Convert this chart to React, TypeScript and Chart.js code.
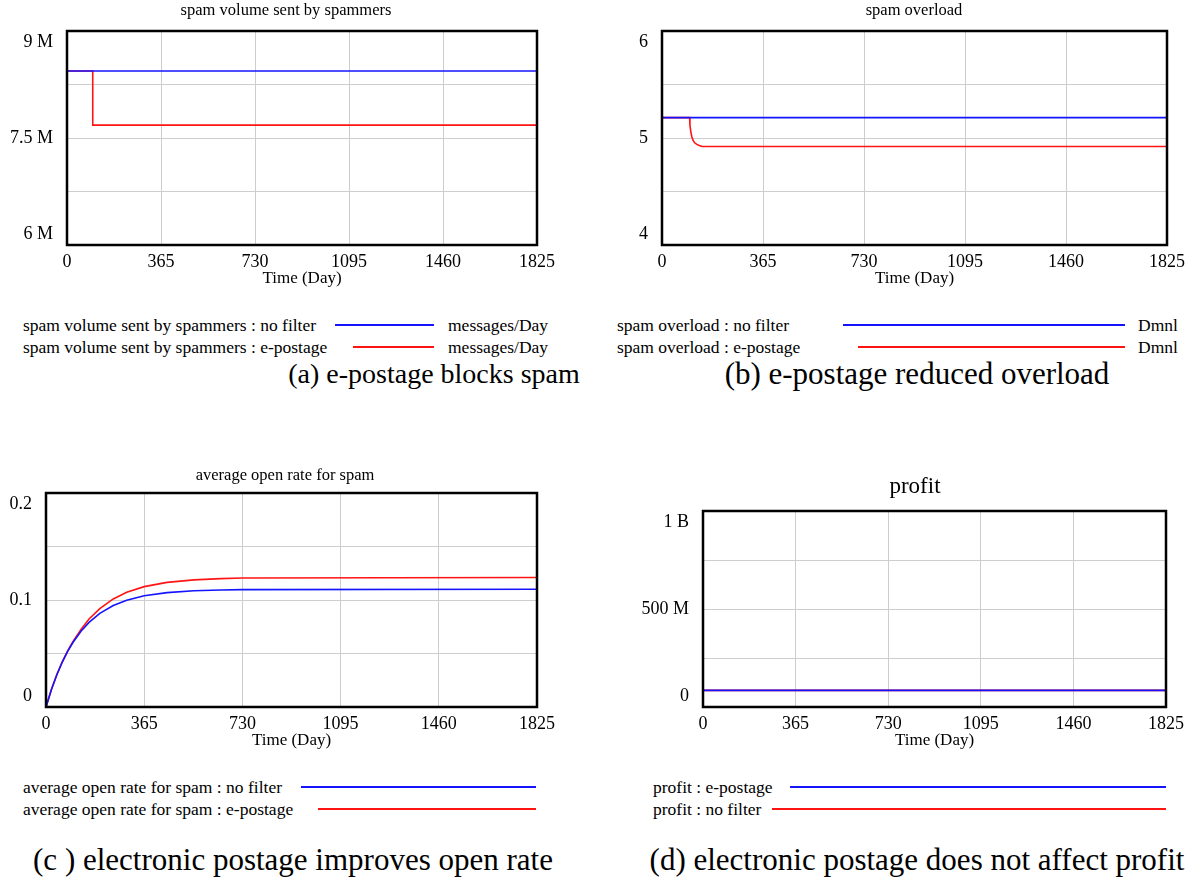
import React, { useEffect, useRef } from 'react';
import { Chart, registerables } from 'chart.js';

Chart.register(...registerables);

const FONT = "'Liberation Serif', 'Times New Roman', serif";
const BLUE = 'rgb(20,20,255)';
const RED = 'rgb(255,20,20)';
const GRID = 'rgb(205,205,205)';

// shared time axis
const timeMax = 1825;
const timeStep = 365;
const xTitle = 'Time (Day)';

// (a) spam volume sent by spammers
const spamTime = [0, 100, 100, 1825];
const spamNoFilter = [8.44e6, 8.44e6, 8.44e6, 8.44e6];
const spamEPostage = [8.44e6, 8.44e6, 7.68e6, 7.68e6];
const spamYVals = [9e6, 7.5e6, 6e6];
const spamYLabels = ['9 M', '7.5 M', '6 M'];

// (b) spam overload
const overloadTime = [0, 100, 101, 104, 108, 112, 118, 126, 135, 145, 1825];
const overloadNoFilter = [5.19, 5.19, 5.19, 5.19, 5.19, 5.19, 5.19, 5.19, 5.19, 5.19, 5.19];
const overloadEPostage = [5.19, 5.19, 5.12, 5.06, 5.01, 4.98, 4.955, 4.94, 4.93, 4.92, 4.92];
const overloadYVals = [6, 5, 4];
const overloadYLabels = ['6', '5', '4'];

// (c) average open rate for spam
const openTime = [0, 20, 40, 60, 80, 100, 130, 160, 200, 250, 300, 365, 450, 550, 650, 730, 1825];
const openNoFilter = [0, 0.0162, 0.0299, 0.0417, 0.0517, 0.0603, 0.0708, 0.0791, 0.0875, 0.0949, 0.0998, 0.1039, 0.1069, 0.1086, 0.1094, 0.1097, 0.11];
const openEPostage = [0, 0.0163, 0.0301, 0.042, 0.0522, 0.061, 0.0725, 0.0822, 0.092, 0.101, 0.1072, 0.1125, 0.1165, 0.1188, 0.12, 0.1205, 0.121];
const openYVals = [0.2, 0.1, 0];
const openYLabels = ['0.2', '0.1', '0'];

// (d) profit
const profitTime = [0, 1825];
const profitEPostage = [8.5e7, 8.5e7];
const profitNoFilter = [8.5e7, 8.5e7];
const profitYVals = [1e9, 5e8, 0];
const profitYLabels = ['1 B', '500 M', '0'];

const captions = [
  '(a) e-postage blocks spam',
  '(b) e-postage reduced overload',
  '(c ) electronic postage improves open rate',
  '(d) electronic postage does not affect profit',
];

type Series = { name: string; color: string; time: number[]; values: number[] };
type Panel = {
  left: number; top: number; width: number; height: number;
  area: { l: number; t: number; r: number; b: number };
  title: string; titleX: number; titleY: number; titleSize: number;
  yMin: number; yMax: number; yVals: number[]; yLabels: string[];
  series: Series[];
  legend: { textLeft: number; lineStarts: number[]; lineEnd: number; ys: number[]; unit?: string; unitLeft?: number };
};

const panels: Panel[] = [
  {
    left: 0, top: 0, width: 597, height: 300,
    area: { l: 67, t: 31, r: 537, b: 245 },
    title: 'spam volume sent by spammers', titleX: 286, titleY: 11, titleSize: 16.5,
    yMin: 6e6, yMax: 9e6, yVals: spamYVals, yLabels: spamYLabels,
    series: [
      { name: 'no filter', color: BLUE, time: spamTime, values: spamNoFilter },
      { name: 'e-postage', color: RED, time: spamTime, values: spamEPostage },
    ],
    legend: { textLeft: 23, lineStarts: [335, 353], lineEnd: 434, ys: [325, 347], unit: 'messages/Day', unitLeft: 448 },
  },
  {
    left: 597, top: 0, width: 598, height: 300,
    area: { l: 65, t: 31, r: 570, b: 245 },
    title: 'spam overload', titleX: 317, titleY: 11, titleSize: 16.5,
    yMin: 4, yMax: 6, yVals: overloadYVals, yLabels: overloadYLabels,
    series: [
      { name: 'no filter', color: BLUE, time: overloadTime, values: overloadNoFilter },
      { name: 'e-postage', color: RED, time: overloadTime, values: overloadEPostage },
    ],
    legend: { textLeft: 617, lineStarts: [843, 858], lineEnd: 1125, ys: [325, 347], unit: 'Dmnl', unitLeft: 1138 },
  },
  {
    left: 0, top: 460, width: 597, height: 300,
    area: { l: 46, t: 33, r: 537, b: 247 },
    title: 'average open rate for spam', titleX: 285, titleY: 15.5, titleSize: 16.5,
    yMin: 0, yMax: 0.2, yVals: openYVals, yLabels: openYLabels,
    series: [
      { name: 'no filter', color: BLUE, time: openTime, values: openNoFilter },
      { name: 'e-postage', color: RED, time: openTime, values: openEPostage },
    ],
    legend: { textLeft: 23, lineStarts: [301, 318], lineEnd: 536, ys: [787, 809] },
  },
  {
    left: 597, top: 460, width: 598, height: 300,
    area: { l: 106, t: 51, r: 569, b: 247 },
    title: 'profit', titleX: 318, titleY: 27, titleSize: 23,
    yMin: 0, yMax: 1e9, yVals: profitYVals, yLabels: profitYLabels,
    series: [
      { name: 'e-postage', color: BLUE, time: profitTime, values: profitEPostage },
      { name: 'no filter', color: RED, time: profitTime, values: profitNoFilter },
    ],
    legend: { textLeft: 653, lineStarts: [790, 772], lineEnd: 1166, ys: [787, 809] },
  },
];

const X_AXIS_H = 45;

function ChartPanel({ p }: { p: Panel }) {
  const ref = useRef<HTMLCanvasElement | null>(null);
  useEffect(() => {
    if (!ref.current) return;
    const frame = {
      id: 'frame',
      afterDraw(chart: any) {
        const { ctx, chartArea } = chart;
        const ys = chart.scales.y;
        ctx.save();
        ctx.strokeStyle = '#000';
        ctx.lineWidth = 2.5;
        ctx.strokeRect(chartArea.left, chartArea.top, chartArea.right - chartArea.left, chartArea.bottom - chartArea.top);
        ctx.fillStyle = '#000';
        ctx.font = `18px ${FONT}`;
        ctx.textAlign = 'right';
        ctx.textBaseline = 'middle';
        p.yVals.forEach((v, i) => {
          let y = ys.getPixelForValue(v);
          if (v === p.yMax) y += 11;
          else if (v === p.yMin) y -= 11;
          ctx.fillText(p.yLabels[i], chartArea.left - 14, y);
        });
        ctx.font = `${p.titleSize}px ${FONT}`;
        ctx.textAlign = 'center';
        ctx.fillText(p.title, p.titleX, p.titleY);
        ctx.restore();
      },
    };
    const chart = new Chart(ref.current, {
      type: 'line',
      data: {
        datasets: p.series.map((s) => ({
          label: `${p.title} : ${s.name}`,
          data: s.time.map((t, i) => ({ x: t, y: s.values[i] })),
          borderColor: s.color,
          backgroundColor: s.color,
          borderWidth: 1.6,
          pointRadius: 0,
          fill: false,
          tension: 0,
        })),
      },
      options: {
        responsive: false,
        animation: false,
        devicePixelRatio: 1,
        layout: {
          autoPadding: false,
          padding: {
            left: p.area.l,
            top: p.area.t,
            right: p.width - p.area.r,
            bottom: p.height - p.area.b - X_AXIS_H,
          },
        },
        plugins: { legend: { display: false }, title: { display: false }, tooltip: { enabled: false } },
        scales: {
          x: {
            type: 'linear',
            min: 0,
            max: timeMax,
            grid: { color: GRID, lineWidth: 1, drawTicks: false },
            border: { display: false },
            ticks: {
              stepSize: timeStep,
              autoSkip: false,
              maxRotation: 0,
              padding: 6,
              color: '#000',
              font: { family: FONT, size: 18 },
              callback: (v: any) => String(v),
            },
            title: {
              display: true,
              text: xTitle,
              color: '#000',
              font: { family: FONT, size: 17 },
              padding: { top: 0, bottom: 1 },
            },
            afterFit: (s: any) => { s.height = X_AXIS_H; },
          },
          y: {
            type: 'linear',
            min: p.yMin,
            max: p.yMax,
            grid: { color: GRID, lineWidth: 1, drawTicks: false },
            border: { display: false },
            ticks: { display: false, stepSize: (p.yMax - p.yMin) / 4 },
            afterFit: (s: any) => { s.width = 0; },
          },
        },
      } as any,
      plugins: [frame],
    });
    return () => chart.destroy();
  }, [p]);
  return (
    <canvas
      ref={ref}
      width={p.width}
      height={p.height}
      style={{ position: 'absolute', left: p.left, top: p.top, width: p.width, height: p.height }}
    />
  );
}

const textStyle: React.CSSProperties = {
  position: 'absolute', height: 22, lineHeight: '22px',
  fontFamily: FONT, fontSize: 17.5, whiteSpace: 'nowrap', color: '#000',
};

function Legend({ p }: { p: Panel }) {
  const L = p.legend;
  return (
    <>
      {p.series.map((s, i) => (
        <React.Fragment key={i}>
          <div style={{ ...textStyle, left: L.textLeft, top: L.ys[i] - 11 }}>{`${p.title} : ${s.name}`}</div>
          <div
            style={{
              position: 'absolute', left: L.lineStarts[i], top: L.ys[i] - 1,
              width: L.lineEnd - L.lineStarts[i], height: 2, background: s.color,
            }}
          />
          {L.unit && <div style={{ ...textStyle, left: L.unitLeft, top: L.ys[i] - 11 }}>{L.unit}</div>}
        </React.Fragment>
      ))}
    </>
  );
}

const captionPos = [
  { cx: 434, cy: 374, size: 28 },
  { cx: 917, cy: 374, size: 31 },
  { cx: 293, cy: 860, size: 31 },
  { cx: 917, cy: 860, size: 31 },
];

export default function App() {
  return (
    <div style={{ position: 'absolute', left: 0, top: 0, width: 1195, height: 884, background: '#fff', overflow: 'hidden' }}>
      {panels.map((p, i) => (
        <React.Fragment key={i}>
          <ChartPanel p={p} />
          <Legend p={p} />
        </React.Fragment>
      ))}
      {captions.map((c, i) => (
        <div
          key={i}
          style={{
            position: 'absolute', left: captionPos[i].cx - 300, width: 600, top: captionPos[i].cy - 18,
            height: 36, lineHeight: '36px', textAlign: 'center', fontFamily: FONT, fontSize: captionPos[i].size,
            whiteSpace: 'nowrap', color: '#000',
          }}
        >
          {c}
        </div>
      ))}
    </div>
  );
}
